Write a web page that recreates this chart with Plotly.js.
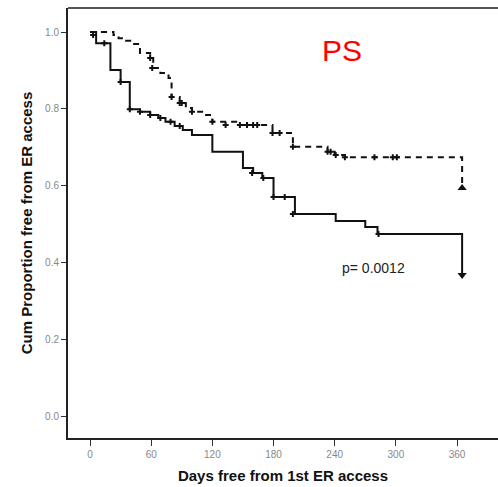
<!DOCTYPE html>
<html>
<head>
<meta charset="utf-8">
<script src="https://cdn.plot.ly/plotly-3.0.1.min.js"></script>
<style>html,body{margin:0;padding:0;background:#fff;}#chart{width:498px;height:487px;}</style>
</head>
<body>
<div id="chart"></div>
<script>
// Solid group (lower curve): step times (days) and cumulative proportion
var solidDays = [0, 6, 20, 30, 39, 49, 59, 67, 74, 83, 91, 100, 120, 150, 160, 169, 180, 201, 241, 270, 282, 365];
var solidSurv = [1.0, 0.971, 0.901, 0.870, 0.799, 0.792, 0.784, 0.776, 0.766, 0.755, 0.745, 0.732, 0.688, 0.646, 0.633, 0.620, 0.570, 0.526, 0.508, 0.492, 0.474, 0.367];
// Dashed group (upper curve)
var dashDays = [0, 23, 28, 34, 42, 49, 52, 59, 62, 69, 77, 80, 88, 94, 100, 111, 120, 147, 179, 199, 233, 240, 250, 365];
var dashSurv = [1.0, 0.992, 0.984, 0.977, 0.969, 0.945, 0.945, 0.932, 0.906, 0.893, 0.880, 0.831, 0.815, 0.802, 0.792, 0.784, 0.766, 0.758, 0.737, 0.701, 0.688, 0.680, 0.674, 0.594];
// Censoring marks
var solidCensorDays = [3, 14, 30, 39, 49, 59, 69, 79, 88, 159, 170, 180, 191, 199, 283];
var solidCensorSurv = [0.992, 0.971, 0.870, 0.799, 0.792, 0.784, 0.776, 0.766, 0.755, 0.633, 0.620, 0.570, 0.570, 0.526, 0.474];
var dashCensorDays = [59, 61, 80, 88, 90, 100, 120, 133, 147, 154, 160, 164, 179, 186, 199, 233, 236, 241, 250, 279, 297, 301];
var dashCensorSurv = [0.932, 0.906, 0.831, 0.815, 0.815, 0.792, 0.766, 0.758, 0.758, 0.758, 0.758, 0.758, 0.737, 0.737, 0.701, 0.688, 0.688, 0.680, 0.674, 0.674, 0.674, 0.674];
// Last observations
var solidEnd = {day: [365], surv: [0.367]};
var dashEnd = {day: [365], surv: [0.594]};

var xTicks = [0, 60, 120, 180, 240, 300, 360];
var xTickText = ['0', '60', '120', '180', '240', '300', '360'];
var yTicks = [0, 0.2, 0.4, 0.6, 0.8, 1.0];
var yTickText = ['0.0', '0.2', '0.4', '0.6', '0.8', '1.0'];

var traces = [
  {x: dashDays, y: dashSurv, mode: 'lines', line: {shape: 'hv', color: '#111', width: 2, dash: '6px,5px'}, hoverinfo: 'skip'},
  {x: solidDays, y: solidSurv, mode: 'lines', line: {shape: 'hv', color: '#111', width: 2}, hoverinfo: 'skip'},
  {x: dashCensorDays, y: dashCensorSurv, mode: 'markers', marker: {symbol: 'cross', size: 5, color: '#111'}, hoverinfo: 'skip'},
  {x: solidCensorDays, y: solidCensorSurv, mode: 'markers', marker: {symbol: 'cross', size: 5, color: '#111'}, hoverinfo: 'skip'},
  {x: solidEnd.day, y: solidEnd.surv, mode: 'markers', marker: {symbol: 'triangle-down', size: 8, color: '#111'}, hoverinfo: 'skip'},
  {x: dashEnd.day, y: dashEnd.surv, mode: 'markers', marker: {symbol: 'triangle-up', size: 8, color: '#111'}, hoverinfo: 'skip'}
];

var layout = {
  width: 498, height: 487,
  margin: {l: 68, r: 0, t: 8, b: 49},
  paper_bgcolor: '#fff', plot_bgcolor: '#fff',
  showlegend: false,
  font: {family: 'Liberation Sans, Arial, sans-serif', color: '#111'},
  xaxis: {
    range: [-21.6, 400.2], tickvals: xTicks, ticktext: xTickText,
    showgrid: false, zeroline: false,
    showline: true, linecolor: '#222', linewidth: 2,
    ticks: 'outside', ticklen: 6, tickwidth: 1, tickcolor: '#333',
    tickfont: {size: 10, color: '#888'},
    title: {text: 'Days free from 1st ER access', font: {size: 15, color: '#111', weight: 'bold'}, standoff: 11}
  },
  yaxis: {
    range: [-0.0573, 1.0625], tickvals: yTicks, ticktext: yTickText,
    showgrid: false, zeroline: false,
    showline: true, linecolor: '#222', linewidth: 2,
    ticks: 'outside', ticklen: 5, tickwidth: 1, tickcolor: '#333',
    tickfont: {size: 10, color: '#888'},
    title: {text: 'Cum Proportion free from ER access', font: {size: 15, color: '#111', weight: 'bold'}, standoff: 9}
  },
  shapes: [
    {type: 'line', xref: 'paper', yref: 'paper', x0: 0, x1: 1, y0: 1, y1: 1, line: {color: '#555', width: 2}}
  ],
  annotations: [
    {xref: 'paper', yref: 'paper', x: (342-68)/430, y: (438-51)/430, text: 'PS', showarrow: false,
     font: {size: 30, color: '#ff0000', family: 'Liberation Sans, Arial, sans-serif'}, xanchor: 'center', yanchor: 'middle'},
    {xref: 'paper', yref: 'paper', x: (373-68)/430, y: (438-268)/430, text: 'p= 0.0012', showarrow: false,
     font: {size: 14, color: '#222', family: 'Liberation Sans, Arial, sans-serif'}, xanchor: 'center', yanchor: 'middle'}
  ]
};

Plotly.newPlot('chart', traces, layout, {displayModeBar: false, staticPlot: true});
</script>
</body>
</html>
